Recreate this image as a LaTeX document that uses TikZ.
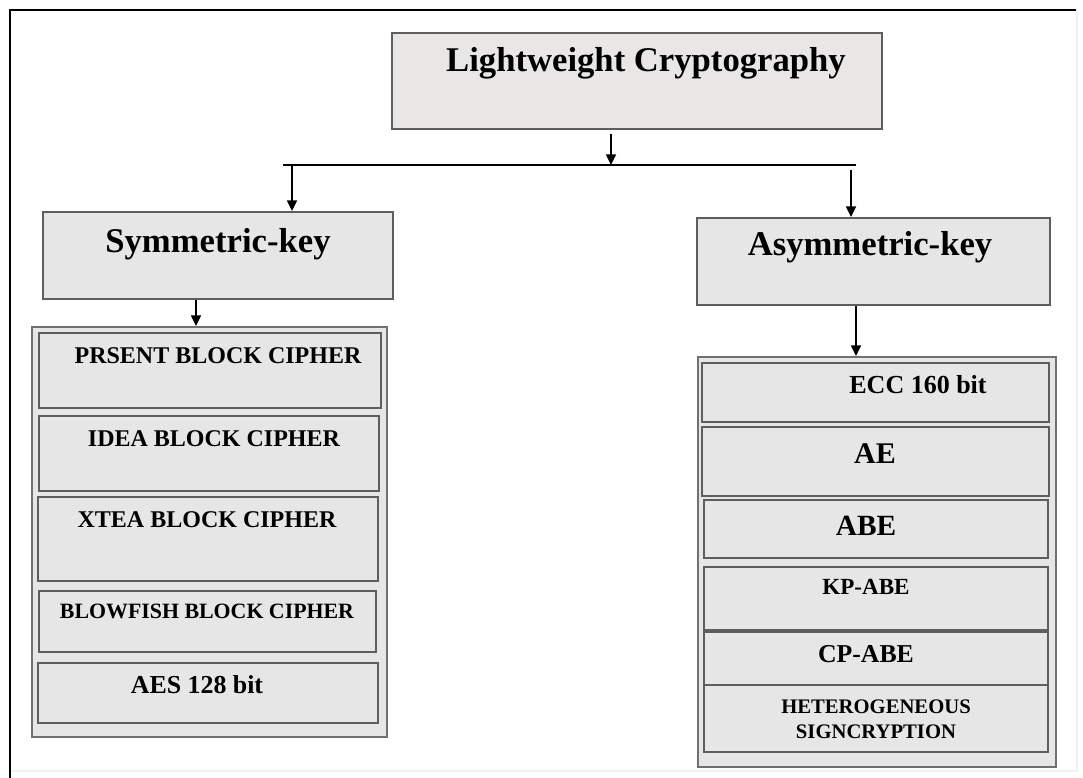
\documentclass[tikz,border=0pt]{standalone}
\usepackage{fontspec}
\setmainfont{Liberation Serif}
\usetikzlibrary{arrows.meta,fit}
\definecolor{boxfill}{HTML}{E6E6E6}
\definecolor{topfill}{HTML}{E9E6E6}
\definecolor{boxline}{HTML}{5E5E5E}
\definecolor{grpline}{HTML}{707070}
\definecolor{faint}{HTML}{F0F0F0}
\newcommand\fs[1]{\fontsize{#1}{1.2\dimexpr#1pt\relax}\selectfont\bfseries}
\begin{document}
\begin{tikzpicture}[x=0.75pt,y=-0.75pt,
  box/.style={draw=boxline,fill=boxfill,line width=1.5pt,inner sep=0pt},
  grp/.style={draw=grpline,fill=boxfill,line width=1.5pt,inner sep=0pt},
  lbl/.style={anchor=base,inner sep=0pt},
  arr/.style={line width=1.1pt,-{Triangle[length=8pt,width=7.5pt]}}]
\useasboundingbox[fill=white] (0,0) rectangle (1083,778);

% page frame
\draw[faint,line width=1pt] (1077,10) -- (1077,771) -- (10,771);
\draw[line width=1.6pt] (10,778) -- (10,10) -- (1076,10);

% main boxes
\node[box,fill=topfill,fit={(392,33) (882,129)}] (top) {};
\node[lbl] (topT) at (646,71) {\fs{26}Lightweight Cryptography};
\node[box,fit={(43,212) (393,299)}] (sym) {};
\node[lbl] (symT) at (218,252) {\fs{26}Symmetric-key};
\node[box,fit={(697,218) (1050,305)}] (asym) {};
\node[lbl] (asymT) at (870,255) {\fs{26}Asymmetric-key};

% symmetric-key algorithms
\node[grp,fit={(32,327) (387,737)}] (lgrp) {};
\node[box,fit={(39,333) (381,408)}] (s1) {};
\node[lbl] (s1T) at (218,363) {\fs{18}PRSENT BLOCK CIPHER};
\node[box,fit={(39,416) (379,491)}] (s2) {};
\node[lbl] (s2T) at (214,446) {\fs{18}IDEA BLOCK CIPHER};
\node[box,fit={(38,497) (378,581)}] (s3) {};
\node[lbl] (s3T) at (207,527) {\fs{18}XTEA BLOCK CIPHER};
\node[box,fit={(39,591) (376,652)}] (s4) {};
\node[lbl] (s4T) at (207,618) {\fs{16.4}BLOWFISH BLOCK CIPHER};
\node[box,fit={(38,663) (378,723)}] (s5) {};
\node[lbl] (s5T) at (197,693) {\fs{19.4}AES 128 bit};

% asymmetric-key algorithms
\node[grp,fit={(698,357) (1056,767)}] (rgrp) {};
\node[box,fit={(702,363) (1049,422)}] (a1) {};
\node[lbl] (a1T) at (918,393) {\fs{19.5}ECC 160 bit};
\node[box,fit={(702,427) (1049,496)}] (a2) {};
\node[lbl] (a2T) at (875,463) {\fs{22.5}AE};
\node[box,fit={(704,500) (1048,558)}] (a3) {};
\node[lbl] (a3T) at (866,535) {\fs{22}ABE};
\node[box,fit={(704,567) (1048,630)}] (a4) {};
\node[lbl] (a4T) at (866,594) {\fs{17.3}KP-ABE};
\node[box,fit={(704,632) (1048,685)}] (a5) {};
\node[lbl] (a5T) at (866,662) {\fs{19.3}CP-ABE};
\node[box,fit={(704,685) (1048,752)}] (a6) {};
\node[anchor=center,inner sep=0pt,align=center,
  font=\fontsize{15.5}{19}\selectfont\bfseries] (a6T) at (876,719)
  {HETEROGENEOUS\\SIGNCRYPTION};

% branching connectors
\coordinate (busL) at (283,165);
\coordinate (busR) at (856,165);
\coordinate (busC) at (611,165);
\coordinate (brL) at (292,165);
\coordinate (brR) at (851,170);
\draw[line width=1.1pt] (busL) -- (busR);
\draw[arr,shorten <=3pt] (top.south -| busC) -- (busC);
\draw[arr] (brL) -- (brL |- sym.north);
\draw[arr] (brR) -- (brR |- asym.north);
\draw[arr] (196,0 |- sym.south) -- (196,0 |- lgrp.north);
\draw[arr] (856,0 |- asym.south) -- (856,0 |- rgrp.north);
\end{tikzpicture}
\end{document}
